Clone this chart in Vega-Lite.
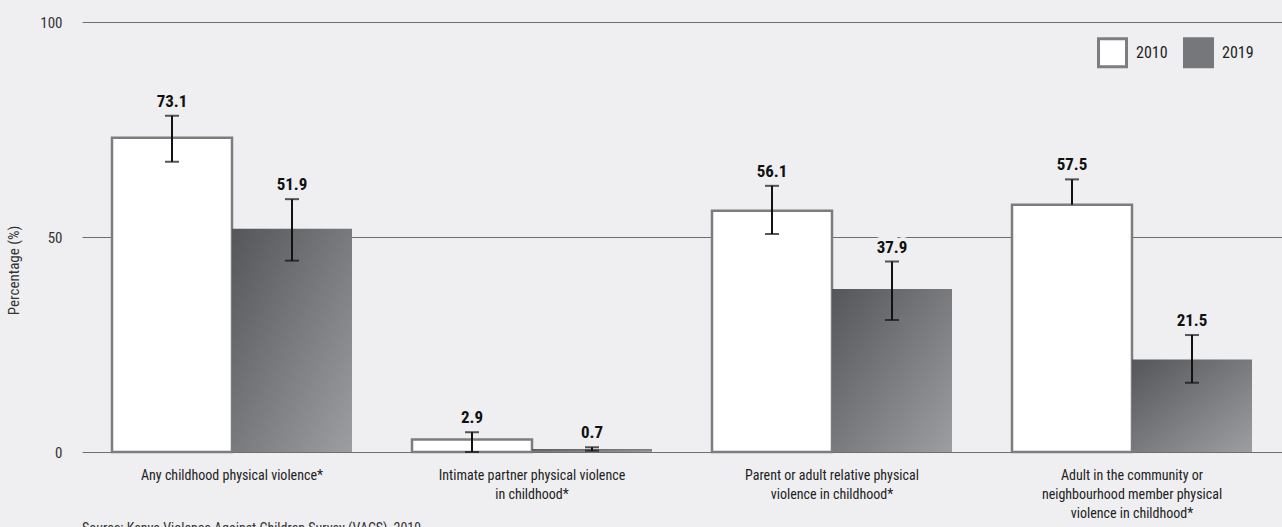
{
  "$schema": "https://vega.github.io/schema/vega-lite/v6.json",
  "width": 1200,
  "height": 430,
  "autosize": {"type": "none"},
  "padding": {"left": 82, "top": 22, "right": 0, "bottom": 75},
  "background": "#efeff1",
  "config": {
    "view": {"stroke": null},
    "font": "Roboto Condensed, Liberation Sans Narrow, Roboto, sans-serif"
  },
  "title": {
    "text": "Source: Kenya Violence Against Children Survey (VACS), 2019",
    "orient": "bottom",
    "anchor": "start",
    "frame": "group",
    "fontSize": 14,
    "fontWeight": "normal",
    "color": "#333333",
    "offset": 2
  },
  "data": {
    "values": [
      {"cat": "Any childhood physical violence*", "year": "2010", "value": 73.1, "lower": 67.5, "upper": 78.2},
      {"cat": "Any childhood physical violence*", "year": "2019", "value": 51.9, "lower": 44.5, "upper": 58.8},
      {"cat": "Intimate partner physical violence|in childhood*", "year": "2010", "value": 2.9, "lower": 0.0, "upper": 4.6},
      {"cat": "Intimate partner physical violence|in childhood*", "year": "2019", "value": 0.7, "lower": 0.3, "upper": 1.1},
      {"cat": "Parent or adult relative physical|violence in childhood*", "year": "2010", "value": 56.1, "lower": 50.7, "upper": 61.9},
      {"cat": "Parent or adult relative physical|violence in childhood*", "year": "2019", "value": 37.9, "lower": 30.7, "upper": 44.3},
      {"cat": "Adult in the community or|neighbourhood member physical|violence in childhood*", "year": "2010", "value": 57.5, "lower": 57.5, "upper": 63.4},
      {"cat": "Adult in the community or|neighbourhood member physical|violence in childhood*", "year": "2019", "value": 21.5, "lower": 16.1, "upper": 27.2}
    ]
  },
  "encoding": {
    "x": {
      "field": "cat",
      "type": "nominal",
      "sort": null,
      "scale": {"paddingInner": 0.2, "paddingOuter": 0.1},
      "axis": {
        "title": null,
        "labelAngle": 0,
        "labelExpr": "split(datum.label, '|')",
        "labelLimit": 0,
        "domain": false,
        "ticks": false,
        "tickSize": 0,
        "labelPadding": 16,
        "labelFontSize": 14,
        "labelLineHeight": 19,
        "labelColor": "#222222",
        "labelBaseline": "top"
      }
    },
    "xOffset": {"field": "year", "type": "nominal", "scale": {"domain": ["2010", "2019"], "paddingInner": 0}}
  },
  "layer": [
    {
      "transform": [{"filter": "datum.year === '2010'"}],
      "mark": {"type": "bar", "strokeWidth": 2.5},
      "encoding": {
        "y": {
          "field": "value",
          "type": "quantitative",
          "scale": {"domain": [0, 100], "nice": false},
          "axis": {
            "title": "Percentage (%)",
            "titleFontSize": 15,
            "titleFontWeight": "normal",
            "titleColor": "#333333",
            "titleX": -61,
            "titleY": 248,
            "values": [0, 50, 100],
            "grid": true,
            "gridColor": "#6e6e70",
            "gridWidth": 1,
            "domain": false,
            "ticks": false,
            "tickSize": 0,
            "labelPadding": 20,
            "labelFontSize": 15,
            "labelColor": "#333333"
          }
        },
        "fill": {
          "field": "year",
          "type": "nominal",
          "scale": {"domain": ["2010", "2019"], "range": ["#ffffff", "#76777a"]},
          "legend": {
            "title": null,
            "orient": "none",
            "legendX": 1015,
            "legendY": 15,
            "direction": "horizontal",
            "symbolType": "square",
            "symbolSize": 784,
            "symbolStrokeWidth": 3,
            "symbolOpacity": 1,
            "labelFontSize": 16,
            "labelColor": "#222222",
            "labelOffset": 8,
            "columnPadding": 10
          }
        },
        "stroke": {
          "field": "year",
          "type": "nominal",
          "scale": {"domain": ["2010", "2019"], "range": ["#7d7d7f", "#76777a"]},
          "legend": {
            "title": null,
            "orient": "none",
            "legendX": 1015,
            "legendY": 15,
            "direction": "horizontal",
            "symbolType": "square",
            "symbolSize": 784,
            "symbolStrokeWidth": 3,
            "labelFontSize": 16,
            "labelColor": "#222222",
            "labelOffset": 8,
            "columnPadding": 10
          }
        }
      }
    },
    {
      "transform": [{"filter": "datum.year === '2019'"}],
      "mark": {
        "type": "bar",
        "fill": {"gradient": "linear", "x1": 0, "y1": 0, "x2": 1, "y2": 1, "stops": [{"offset": 0, "color": "#55565a"}, {"offset": 1, "color": "#9d9ea1"}]}
      },
      "encoding": {
        "y": {"field": "value", "type": "quantitative"}
      }
    },
    {
      "mark": {"type": "rule", "color": "#111111", "strokeWidth": 2},
      "encoding": {
        "y": {"field": "lower", "type": "quantitative"},
        "y2": {"field": "upper"}
      }
    },
    {
      "mark": {"type": "tick", "color": "#111111", "thickness": 2, "size": 14},
      "encoding": {
        "y": {"field": "upper", "type": "quantitative"}
      }
    },
    {
      "transform": [{"filter": "datum.lower < datum.value"}],
      "mark": {"type": "tick", "color": "#111111", "thickness": 2, "size": 14},
      "encoding": {
        "y": {"field": "lower", "type": "quantitative"}
      }
    },
    {
      "mark": {"type": "text", "dy": -9, "baseline": "alphabetic", "fontSize": 17, "fontWeight": "bold", "stroke": "#efeff1", "strokeWidth": 8, "fill": "#efeff1"},
      "encoding": {
        "y": {"field": "upper", "type": "quantitative"},
        "text": {"field": "value", "type": "quantitative", "format": ".1f"}
      }
    },
    {
      "mark": {"type": "text", "dy": -9, "baseline": "alphabetic", "fontSize": 17, "fontWeight": "bold", "color": "#111111"},
      "encoding": {
        "y": {"field": "upper", "type": "quantitative"},
        "text": {"field": "value", "type": "quantitative", "format": ".1f"}
      }
    }
  ]
}
